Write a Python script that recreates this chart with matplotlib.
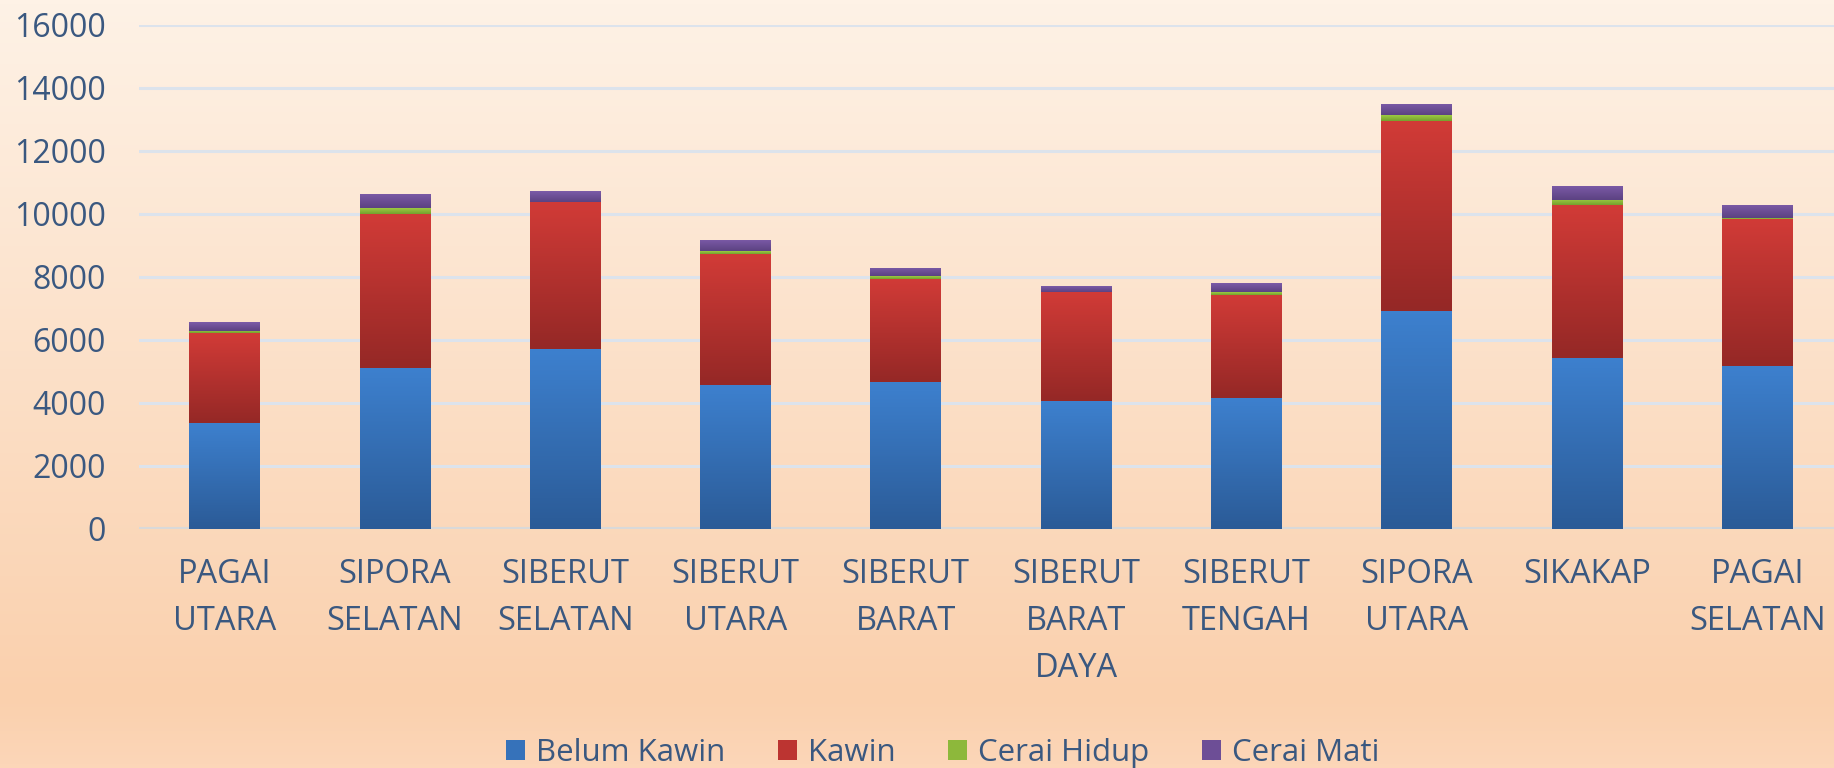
import numpy as np
import matplotlib
matplotlib.use('Agg')
import matplotlib.pyplot as plt
from matplotlib.colors import LinearSegmentedColormap
from matplotlib.patches import Patch

categories = ["PAGAI\nUTARA", "SIPORA\nSELATAN", "SIBERUT\nSELATAN", "SIBERUT\nUTARA",
              "SIBERUT\nBARAT", "SIBERUT\nBARAT\nDAYA", "SIBERUT\nTENGAH", "SIPORA\nUTARA",
              "SIKAKAP", "PAGAI\nSELATAN"]
belum_kawin = [3350, 5090, 5690, 4570, 4660, 4050, 4140, 6900, 5430, 5160]
kawin = [2850, 4910, 4670, 4150, 3270, 3460, 3270, 6050, 4840, 4680]
cerai_hidup = [80, 180, 20, 80, 90, 15, 90, 170, 160, 10]
cerai_mati = [265, 445, 330, 355, 270, 170, 285, 355, 445, 420]
series_names = ["Belum Kawin", "Kawin", "Cerai Hidup", "Cerai Mati"]
yticks = [0, 2000, 4000, 6000, 8000, 10000, 12000, 14000, 16000]

series = [belum_kawin, kawin, cerai_hidup, cerai_mati]
grad_colors = [("#2B5B97", "#3D80CE"), ("#952826", "#D13B37"),
               ("#75A02E", "#9CCA42"), ("#5C4282", "#7C5BA8")]
legend_colors = ["#3672BA", "#BC3431", "#8DB83B", "#6D4E96"]
text_color = "#3A5880"
font = ["Open Sans", "DejaVu Sans"]

W, H = 1834, 768
fig = plt.figure(figsize=(W / 100, H / 100), dpi=100)

# background gradient
bg = fig.add_axes([0, 0, 1, 1], zorder=-10)
bg_cmap = LinearSegmentedColormap.from_list(
    "bg", [(0.0, "#FCD6B8"), (0.09, "#FAD0AD"), (1.0, "#FEF2E6")])
bg.imshow(np.linspace(0, 1, 256).reshape(-1, 1), aspect="auto", cmap=bg_cmap,
          origin="lower", extent=[0, 1, 0, 1])
bg.axis("off")

left = 139.4 / W
width = 1703.0 / W
bottom = (H - 528.7) / H
height = (528.7 - 24.6) / H
ax = fig.add_axes([left, bottom, width, height])
ax.set_facecolor("none")

x = np.arange(len(categories))
bw = 0.415
base = np.zeros(len(categories))
grad = np.linspace(0, 1, 64).reshape(-1, 1)
for vals, (c0, c1), name in zip(series, grad_colors, series_names):
    bars = ax.bar(x, vals, bw, bottom=base, color=c1, label=name, zorder=2, linewidth=0)
    cmap = LinearSegmentedColormap.from_list(name, [c0, c1])
    for rect in bars:
        x0, y0 = rect.get_x(), rect.get_y()
        w, h = rect.get_width(), rect.get_height()
        im = ax.imshow(grad, extent=[x0, x0 + w, y0, y0 + h], aspect="auto",
                       cmap=cmap, origin="lower", zorder=2.5)
        im.set_clip_path(rect)
    base = base + np.array(vals)

ax.set_xlim(-0.5, len(categories) - 0.5)
ax.set_ylim(0, 16000)
ax.set_yticks(yticks)
ax.set_yticklabels([str(v) for v in yticks], fontsize=23, color=text_color, family=font)
ax.set_xticks(x)
ax.set_xticklabels(categories, fontsize=23.5, color=text_color, family=font, linespacing=1.56)
ax.tick_params(axis="both", length=0)
ax.tick_params(axis="y", pad=24)
ax.tick_params(axis="x", pad=21)
for s in ax.spines.values():
    s.set_visible(False)
ax.yaxis.grid(True, color="#DCE3EC", linewidth=2.2, zorder=0)
ax.set_axisbelow(True)
ax.axhline(0, color="#D9D9D9", linewidth=3, zorder=1)

handles = [Patch(facecolor=c, edgecolor="none") for c in legend_colors]
fig.legend(handles, series_names, loc="center", bbox_to_anchor=(0.514, 0.020),
           ncol=4, frameon=False, handlelength=0.6, handleheight=0.6,
           handletextpad=0.35, columnspacing=1.7,
           prop={"family": font, "size": 22.5}, labelcolor=text_color)

fig.savefig("out.png", dpi=100)
